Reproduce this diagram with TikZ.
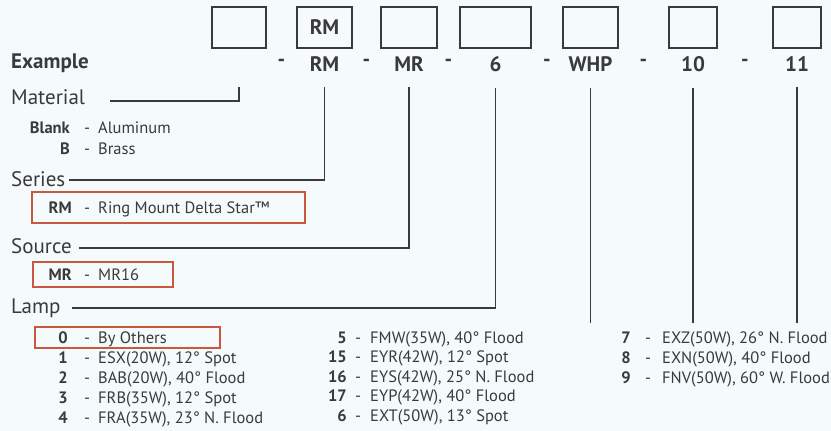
\documentclass[tikz,border=0pt]{standalone}
\usepackage{fontspec}
\setmainfont{PT Sans}
\usetikzlibrary{calc}
\definecolor{inkc}{HTML}{3A3A3A}
\definecolor{markc}{HTML}{C9583E}
\definecolor{bgc}{HTML}{F5FBFC}
\tikzset{
  slot/.style ={draw=inkc,line width=1.6pt,minimum height=41pt,inner sep=0pt,
                text=inkc,font=\fontsize{21}{24}\selectfont\bfseries},
  code/.style ={text=inkc,font=\fontsize{21}{24}\selectfont\bfseries,inner sep=1pt},
  sect/.style ={text=inkc,font=\fontsize{21}{24}\selectfont,inner sep=1pt,anchor=base west},
  key/.style  ={text=inkc,font=\fontsize{16.5}{19}\selectfont\bfseries,inner sep=0pt,anchor=base east},
  sep/.style  ={text=inkc,font=\fontsize{16.5}{19}\selectfont,inner sep=0pt,anchor=base},
  desc/.style ={text=inkc,font=\fontsize{16.5}{19}\selectfont,inner sep=0pt,anchor=base west},
  pick/.style ={draw=markc,line width=1.8pt,inner sep=0pt},
  link/.style ={draw=inkc,line width=1.3pt},
}

\begin{document}
\begin{tikzpicture}[x=1pt,y=-1pt]
  \fill[bgc] (0,0) rectangle (831,431);
  \useasboundingbox (0,0) rectangle (831,431);

  % code slots
  \foreach \nm/\cx/\w/\t in {s1/239/54/{}, s2/324.5/55/RM, s3/409/56/{}, s4/495.5/71/{},
                             s5/590.5/55/{}, s6/693/48/{}, s7/797/48/{}}
    \node[slot,minimum width=\w] (\nm) at (\cx,27.5) {\t};

  % example row
  \node[code,anchor=west] (example) at (10,63) {Example};
  \foreach \t [count=\i] in {{}, RM, MR, 6, WHP, 10, 11}
    \node[code] (c\i) at ($(s\i.south)+(0,15)$) {\t};
  \foreach \a/\b [count=\i] in {1/2, 2/3, 3/4, 4/5, 5/6, 6/7}
    \node[code] (d\i) at ($(s\a.east)!0.5!(s\b.west)+(0,35.5)$) {-};

  % sections
  \node[sect] (material) at (10,104) {Material};
  \node[sect] (series)   at (10,186) {Series};
  \node[sect] (source)   at (10,253) {Source};
  \node[sect] (lamp)     at (10,313) {Lamp};

  \draw[link] ([xshift=24pt,yshift=3pt]material.base east) -| ([yshift=-22pt]c1.south);
  \draw[link] ([xshift=3pt,yshift=6pt]series.base east) -| ([yshift=-15pt]c2.south);
  \draw[link] ([xshift=6pt,yshift=5pt]source.base east) -| ([yshift=-15pt]c3.south);
  \draw[link] ([xshift=10pt,yshift=5pt]lamp.base east) -| ([yshift=-15pt]c4.south);
  \coordinate (listtop) at (0,323);
  \foreach \i in {5,6,7}
    \draw[link] ([yshift=-15pt]c\i.south) -- (c\i.south |- listtop);

  % material
  \node[key]  (kb0) at (70,133) {Blank};
  \node[sep]  (sb0) at (87,133) {-};
  \node[desc] (tb0) at (98,133) {Aluminum};
  \node[key]  (kb1) at (70,154) {B};
  \node[sep]  (sb1) at (87,154) {-};
  \node[desc] (tb1) at (98,154) {Brass};

  % series
  \node[pick,minimum width=273pt,minimum height=31pt] (rmbox) at (168.5,207.5) {};
  \node[key]  (krm) at (72,213) {RM};
  \node[sep]  (srm) at (87,213) {-};
  \node[desc] (trm) at (98,213) {Ring Mount Delta Star™};

  % source
  \node[pick,minimum width=140pt,minimum height=25pt] (mrbox) at (103,274.5) {};
  \node[key]  (kmr) at (72,280) {MR};
  \node[sep]  (smr) at (87,280) {-};
  \node[desc] (tmr) at (98,280) {MR16};

  % lamp
  \node[pick,minimum width=185pt,minimum height=21pt] (lampbox) at (127.5,337.5) {};
  \foreach \k/\t [count=\i from 0] in {0/By Others, 1/{ESX(20W), 12° Spot}, 2/{BAB(20W), 40° Flood},
                                       3/{FRB(35W), 12° Spot}, 4/{FRA(35W), 23° N. Flood}} {
    \node[key]  (ka\i) at (68,343+20*\i) {\k};
    \node[sep]  (sa\i) at (87,343+20*\i) {-};
    \node[desc] (ta\i) at (98,343+20*\i) {\t};
  }
  \foreach \k/\t [count=\i from 0] in {5/{FMW(35W), 40° Flood}, 15/{EYR(42W), 12° Spot},
                                       16/{EYS(42W), 25° N. Flood}, 17/{EYP(42W), 40° Flood},
                                       6/{EXT(50W), 13° Spot}} {
    \node[key]  (kc\i) at (347,343+19.6*\i) {\k};
    \node[sep]  (sc\i) at (358,343+19.6*\i) {-};
    \node[desc] (tc\i) at (370,343+19.6*\i) {\t};
  }
  \foreach \k/\t [count=\i from 0] in {7/{EXZ(50W), 26° N. Flood}, 8/{EXN(50W), 40° Flood},
                                       9/{FNV(50W), 60° W. Flood}} {
    \node[key]  (ke\i) at (631,343+20*\i) {\k};
    \node[sep]  (se\i) at (648,343+20*\i) {-};
    \node[desc] (te\i) at (662,343+20*\i) {\t};
  }
\end{tikzpicture}
\end{document}
